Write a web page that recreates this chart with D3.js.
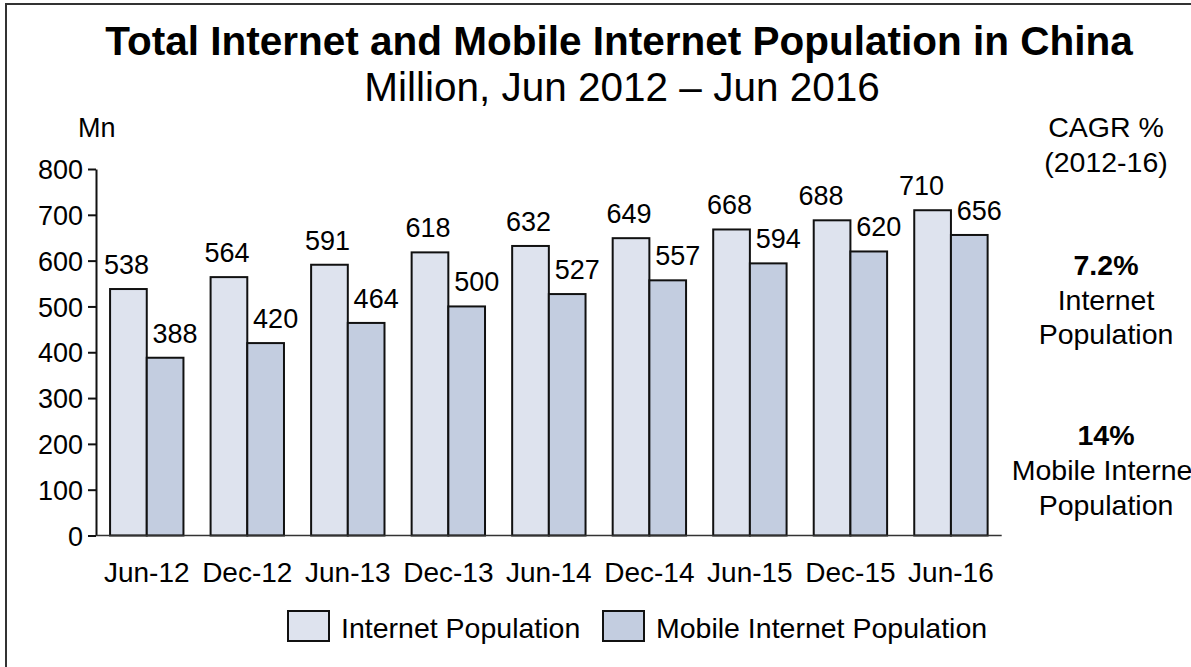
<!DOCTYPE html>
<html>
<head>
<meta charset="utf-8">
<script src="https://cdn.jsdelivr.net/npm/d3@7"></script>
<style>
  body { margin: 0; background: #fff; }
  svg { display: block; font-family: "Liberation Sans", Arial, sans-serif; }
</style>
</head>
<body>
<div id="chart"></div>
<script>
// data
const periods = ["Jun-12", "Dec-12", "Jun-13", "Dec-13", "Jun-14", "Dec-14", "Jun-15", "Dec-15", "Jun-16"]
const internetPop = [538, 564, 591, 618, 632, 649, 668, 688, 710]
const mobilePop = [388, 420, 464, 500, 527, 557, 594, 620, 656]
const seriesNames = ["Internet Population", "Mobile Internet Population"]
const seriesColors = ["#dee3ee", "#c3cde0"]
const yTicks = [0, 100, 200, 300, 400, 500, 600, 700, 800]
const cagrLines = [
  {text: "7.2%", bold: true}, {text: "Internet"}, {text: "Population"},
  {text: "14%", bold: true}, {text: "Mobile Internet"}, {text: "Population"}
]

const W = 1191, H = 667
const fs = 27     // ticks and value labels
const fsBig = 28.5 // legend, side notes

const svg = d3.select("#chart").append("svg")
  .attr("width", W)
  .attr("height", H)

// frame (only top and left edge visible in the picture)
svg.append("rect")
  .attr("x", 6).attr("y", 4)
  .attr("width", 1400).attr("height", 1000)
  .attr("fill", "none")
  .attr("stroke", "#333")
  .attr("stroke-width", 2)

// titles
svg.append("text")
  .attr("x", 619).attr("y", 55)
  .attr("text-anchor", "middle")
  .style("font-size", "40.5px")
  .style("font-weight", "bold")
  .text("Total Internet and Mobile Internet Population in China")

svg.append("text")
  .attr("x", 622).attr("y", 101)
  .attr("text-anchor", "middle")
  .style("font-size", "40.5px")
  .text("Million, Jun 2012 \u2013 Jun 2016")

// scales
const y = d3.scaleLinear().domain([0, 800]).range([535.5, 169])
const x = d3.scaleBand().domain(periods).range([96, 1001.7]).paddingInner(0.27).paddingOuter(0.14)
const xs = d3.scaleBand().domain(seriesNames).range([0, x.bandwidth()])

const rows = periods.map((p, i) => ({period: p, values: [internetPop[i], mobilePop[i]]}))

// bars
const groups = svg.append("g").selectAll("g")
  .data(rows)
  .join("g")
  .attr("transform", d => "translate(" + x(d.period) + ",0)")

groups.selectAll("rect")
  .data(d => d.values.map((v, k) => ({v: v, k: k})))
  .join("rect")
  .attr("x", d => xs(seriesNames[d.k]))
  .attr("y", d => y(d.v))
  .attr("width", xs.bandwidth())
  .attr("height", d => y(0) - y(d.v))
  .attr("fill", d => seriesColors[d.k])
  .attr("stroke", "#111")
  .attr("stroke-width", 2)

// value labels: mobile ones sit a bit to the right, internet ones move left when close
groups.selectAll("text")
  .data(d => d.values.map((v, k) => ({v: v, k: k, gap: d.values[0] - d.values[1]})))
  .join("text")
  .attr("x", d => {
    let cx = xs(seriesNames[d.k]) + xs.bandwidth() / 2
    if (d.k === 1) return cx + 10
    return d.gap < 70 ? cx - 11 : cx - 2
  })
  .attr("y", d => y(d.v) - 15)
  .attr("text-anchor", "middle")
  .style("font-size", fs + "px")
  .text(d => d.v)

// y axis
const yAxis = svg.append("g")
  .attr("transform", "translate(96,0)")
  .call(d3.axisLeft(y).tickValues(yTicks).tickSize(8).tickSizeOuter(0).tickPadding(5))
yAxis.select(".domain").attr("stroke", "#111").attr("stroke-width", 2)
yAxis.selectAll(".tick line").attr("stroke", "#111").attr("stroke-width", 2)
yAxis.selectAll(".tick text")
  .attr("fill", "#000")
  .style("font-size", fs + "px")
  .style("font-family", "Liberation Sans, Arial, sans-serif")
  .attr("dy", "0.36em")

svg.append("text")
  .attr("x", 78).attr("y", 137)
  .style("font-size", fs + "px")
  .text("Mn")

// baseline
svg.append("line")
  .attr("x1", 96).attr("x2", 1001.7)
  .attr("y1", y(0)).attr("y2", y(0))
  .attr("stroke", "#333")
  .attr("stroke-width", 1.5)

// category labels
svg.append("g").selectAll("text")
  .data(periods)
  .join("text")
  .attr("x", d => x(d) + x.bandwidth() / 2)
  .attr("y", 582)
  .attr("text-anchor", "middle")
  .style("font-size", "28px")
  .text(d => d)

// legend
const legendX = [288, 603]
const legend = svg.append("g").selectAll("g")
  .data(seriesNames)
  .join("g")
  .attr("transform", (d, i) => "translate(" + legendX[i] + ",611)")
legend.append("rect")
  .attr("width", 41).attr("height", 30)
  .attr("fill", (d, i) => seriesColors[i])
  .attr("stroke", "#111")
  .attr("stroke-width", 2)
legend.append("text")
  .attr("x", 53).attr("y", 26.5)
  .style("font-size", fsBig + "px")
  .text(d => d)

// CAGR side notes
svg.append("text")
  .attr("x", 1106).attr("y", 137)
  .attr("text-anchor", "middle")
  .style("font-size", fsBig + "px")
  .text("CAGR %")
svg.append("text")
  .attr("x", 1106).attr("y", 171.5)
  .attr("text-anchor", "middle")
  .style("font-size", fsBig + "px")
  .text("(2012-16)")

const cagrY = [275, 310, 344, 445, 480, 515]
svg.append("g").selectAll("text")
  .data(cagrLines)
  .join("text")
  .attr("x", 1106)
  .attr("y", (d, i) => cagrY[i])
  .attr("text-anchor", "middle")
  .style("font-size", fsBig + "px")
  .style("font-weight", d => d.bold ? "bold" : "normal")
  .text(d => d.text)
</script>
</body>
</html>
